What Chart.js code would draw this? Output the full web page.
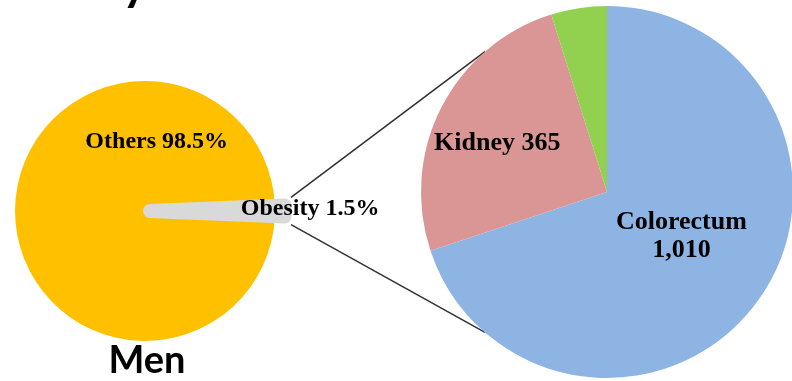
<!DOCTYPE html>
<html>
<head>
<meta charset="utf-8">
<script src="https://cdn.jsdelivr.net/npm/chart.js@4"></script>
<style>
  html, body { margin: 0; padding: 0; background: #fff; overflow: hidden; }
  #wrap { position: relative; width: 792px; height: 381px; }
  #wrap canvas { position: absolute; left: 0; top: 0; }
</style>
</head>
<body>
<div id="wrap">
  <canvas id="leftPie" width="792" height="381"></canvas>
  <canvas id="rightPie" width="792" height="381"></canvas>
</div>
<script>
// left pie: share of cases
const leftLabels = ['Others', 'Obesity'];
const leftValues = [98.5, 1.5];
const leftColors = ['#FFC000', '#D9D9D9'];

// right pie: breakdown of the obesity slice
const rightLabels = ['Colorectum', 'Kidney', 'Other sites'];
const rightValues = [1010, 365, 70];
const rightColors = ['#8EB4E3', '#D99694', '#92D050'];

const serif = '"Liberation Serif", "Times New Roman", serif';

// label anchors, in units of pie radius from pie centre
const leftLabelPos = [[0.09, -0.53], [1.27, -0.02]];
const rightLabelPos = [[0.40, 0.24], [-0.59, -0.26], null];

function drawLabels(chart, lines, pos, size) {
  const arc = chart.getDatasetMeta(0).data[0];
  const { x, y, outerRadius } = arc.getProps(['x', 'y', 'outerRadius'], true);
  const ctx = chart.ctx;
  ctx.save();
  ctx.font = 'bold ' + size + 'px ' + serif;
  ctx.fillStyle = '#000';
  ctx.textAlign = 'center';
  ctx.textBaseline = 'middle';
  lines.forEach((txt, i) => {
    if (!pos[i]) return;
    const cx = x + pos[i][0] * outerRadius;
    const cy = y + pos[i][1] * outerRadius;
    const parts = txt.split('\n');
    parts.forEach((p, k) => {
      ctx.fillText(p, cx, cy + (k - (parts.length - 1) / 2) * 28);
    });
  });
  ctx.restore();
}

const leftTotal = leftValues.reduce((a, b) => a + b, 0);
// turn the pie so the obesity wedge points right
const leftRotation = 90 - 360 * (leftValues[0] + leftValues[1] / 2) / leftTotal;

const leftChart = new Chart(document.getElementById('leftPie'), {
  type: 'pie',
  data: {
    labels: leftLabels,
    datasets: [{
      data: leftValues,
      backgroundColor: leftColors,
      borderColor: leftColors,
      borderWidth: [0, 14],
      borderJoinStyle: 'round',
      offset: [0, 20],
      radius: 130
    }]
  },
  options: {
    responsive: false,
    animation: false,
    events: [],
    rotation: leftRotation,
    layout: { padding: { left: 15, right: 517, top: 81, bottom: 40 } },
    plugins: { legend: { display: false }, tooltip: { enabled: false } }
  },
  plugins: [{
    id: 'leftText',
    afterDraw(chart) {
      drawLabels(chart, leftLabels.map((l, i) => l + ' ' + leftValues[i] + '%'), leftLabelPos, 24);
      const ctx = chart.ctx;
      ctx.save();
      ctx.fillStyle = '#000';
      ctx.font = 'bold 38px Lato, "Open Sans", sans-serif';
      ctx.textAlign = 'center';
      ctx.textBaseline = 'alphabetic';
      ctx.fillText('Men', 147, 373);
      // bottom of the cropped heading above
      ctx.font = 'bold 48px Lato, "Open Sans", sans-serif';
      ctx.textAlign = 'left';
      ctx.fillText('y', 122, 0);
      ctx.restore();
    }
  }]
});

// outer corners of the obesity wedge, following Chart.js offset geometry
function wedgeCorners() {
  const arc = leftChart.getDatasetMeta(0).data[1];
  const p = arc.getProps(['x', 'y', 'startAngle', 'endAngle', 'outerRadius'], true);
  const off = (arc.options.offset || 0) / 4;
  const bw = (arc.options.borderWidth || 0) / 2;
  const half = (p.startAngle + p.endAngle) / 2;
  const tx = p.x + Math.cos(half) * off;
  const ty = p.y + Math.sin(half) * off;
  const R = p.outerRadius + off * (1 - Math.sin(Math.min(Math.PI, p.endAngle - p.startAngle))) + bw;
  return [
    { x: tx + R * Math.cos(p.startAngle) + bw * Math.sin(p.startAngle), y: ty + R * Math.sin(p.startAngle) - bw * Math.cos(p.startAngle) },
    { x: tx + R * Math.cos(p.endAngle) - bw * Math.sin(p.endAngle), y: ty + R * Math.sin(p.endAngle) + bw * Math.cos(p.endAngle) }
  ];
}

// connectors meet the right pie rim this many degrees either side of its leftmost point
const connectorRimAngle = 49;

new Chart(document.getElementById('rightPie'), {
  type: 'pie',
  data: {
    labels: rightLabels,
    datasets: [{
      data: rightValues,
      backgroundColor: rightColors,
      borderWidth: 0,
      radius: 186
    }]
  },
  options: {
    responsive: false,
    animation: false,
    events: [],
    layout: { padding: { left: 422, right: 0, top: 7, bottom: 4 } },
    plugins: { legend: { display: false }, tooltip: { enabled: false } }
  },
  plugins: [{
    id: 'connectors',
    beforeDatasetsDraw(chart) {
      const arc = chart.getDatasetMeta(0).data[0];
      const c = arc.getProps(['x', 'y', 'outerRadius'], true);
      const [top, bottom] = wedgeCorners();
      const ctx = chart.ctx;
      ctx.save();
      ctx.strokeStyle = '#333';
      ctx.lineWidth = 1.6;
      [[top, 1], [bottom, -1]].forEach(([P, s]) => {
        const a = Math.PI + s * connectorRimAngle * Math.PI / 180;
        ctx.beginPath();
        ctx.moveTo(P.x, P.y);
        ctx.lineTo(c.x + c.outerRadius * Math.cos(a), c.y + c.outerRadius * Math.sin(a));
        ctx.stroke();
      });
      ctx.restore();
    },
    afterDraw(chart) {
      const texts = rightLabels.map((l, i) =>
        i === 0 ? l + '\n' + rightValues[i].toLocaleString('en-US') : l + ' ' + rightValues[i]);
      drawLabels(chart, texts, rightLabelPos, 26);
    }
  }]
});
</script>
</body>
</html>
